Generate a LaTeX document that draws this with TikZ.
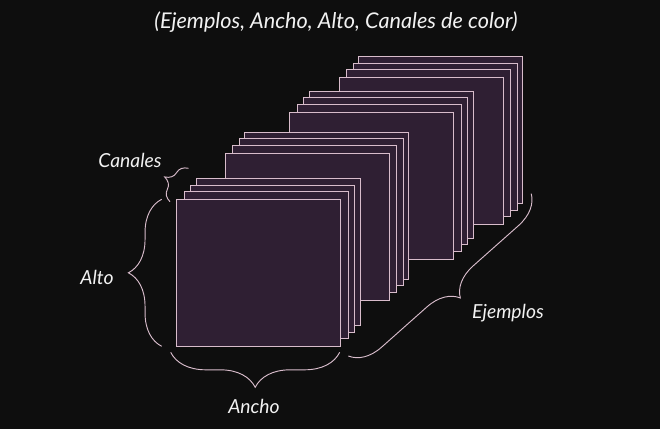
\documentclass[tikz,border=0pt]{standalone}
\usepackage{fontspec}
\setmainfont{Lato}
\usetikzlibrary{positioning,calc,decorations.pathreplacing}
\definecolor{cBg}{HTML}{0E0E0E}
\definecolor{cSheet}{HTML}{2F1F33}
\definecolor{cEdge}{HTML}{D8BCCB}
\definecolor{cText}{HTML}{F2F2F2}
\tikzset{
  sheet/.style={draw=cEdge,fill=cSheet,line width=0.8pt,anchor=north west,
                inner sep=0pt,outer sep=0pt,minimum width=4.92cm,minimum height=4.41cm},
  brc/.style={decorate,decoration={brace,amplitude=#1},draw=cEdge,line width=0.8pt},
  lbl/.style={font=\itshape\fontsize{16.5}{19}\selectfont,text=cText,inner sep=0pt},
}
\begin{document}
\begin{tikzpicture}[x=0.03cm,y=-0.03cm]
  \fill[cBg] (0,0) rectangle (660,429);
  % sheets, back group first
  \foreach \g/\gx/\gy in {4/339/77.3,3/289.7/112,2/225/153,1/176.7/199.3}{
    \foreach \s/\dx/\dy in {4/19.5/21,3/14/14.3,2/7.8/7.8,1/0/0}
      \node[sheet] (g\g s\s) at (\gx+\dx,\gy-\dy) {};
  }
  % braces
  \draw[brc=1cm] ($(g1s1.south west)+(-15,0)$) -- ($(g1s1.north west)+(-15,0)$);
  \draw[brc=1.05cm] ($(g1s1.south east)+(-1,6)$) -- ($(g1s1.south west)+(-6,6)$);
  \draw[brc=0.5cm] ($(g1s1.north west)+(-6.7,2.4)$) -- ($(g1s4.north west)+(-7.7,-10)$);
  \draw[brc=0.93cm] ($(g4s4.south east)+(8.7,-9.7)$) -- ($(g1s1.south east)+(7.6,9.7)$);
  % labels
  \node[lbl] (tAlto) at (97,277) {Alto};
  \node[lbl] (tAncho) at (254,406) {Ancho};
  \node[lbl] (tCanales) at (130,160) {Canales};
  \node[lbl] (tEjemplos) at (508,313) {Ejemplos};
  \node[lbl,font=\itshape\fontsize{18.5}{21}\selectfont] (tTitle) at (336,22)
       {(Ejemplos, Ancho, Alto, Canales de color)};
\end{tikzpicture}
\end{document}
